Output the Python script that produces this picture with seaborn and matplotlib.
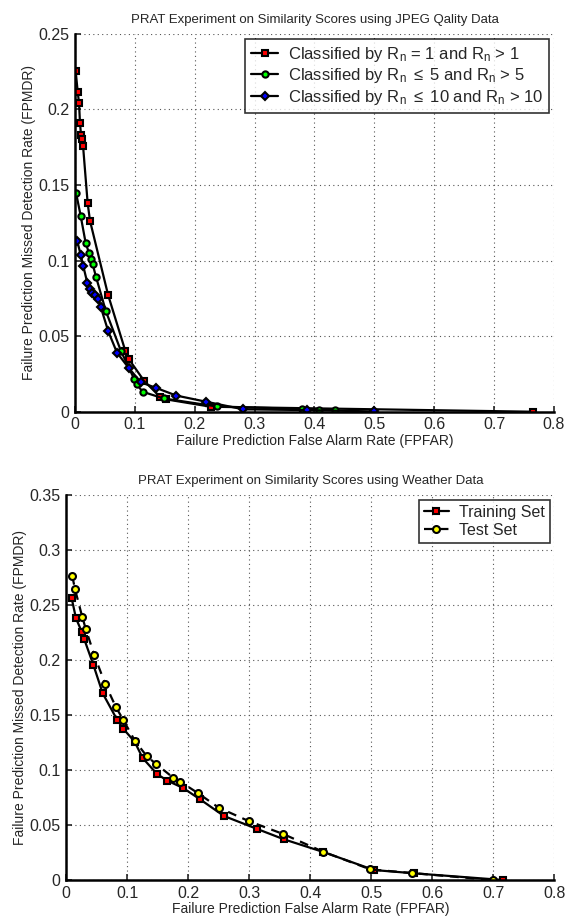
import matplotlib
matplotlib.use("Agg")
import matplotlib.pyplot as plt
import pandas as pd
import seaborn as sns

# --- JPEG quality data (top panel) ---
r1_far = [0.001, 0.0045, 0.0067, 0.0083, 0.010, 0.0117, 0.0134, 0.0211, 0.025, 0.0551,
          0.084, 0.0902, 0.1157, 0.1419, 0.152, 0.227, 0.765]
r1_mdr = [0.2257, 0.2116, 0.2043, 0.1909, 0.1834, 0.1806, 0.176, 0.138, 0.1264, 0.0775,
          0.0403, 0.0346, 0.0203, 0.0099, 0.0082, 0.0033, 0.0]

r5_far = [0.0017, 0.0095, 0.0178, 0.0234, 0.0262, 0.0295, 0.0351, 0.0515, 0.0768, 0.099,
          0.103, 0.113, 0.148, 0.2365, 0.3795, 0.408, 0.435]
r5_mdr = [0.1449, 0.1295, 0.1116, 0.105, 0.1013, 0.0976, 0.0892, 0.0666, 0.0401, 0.0215,
          0.0182, 0.0132, 0.0088, 0.0035, 0.0018, 0.0013, 0.0013]

r10_far = [0.0039, 0.0095, 0.0139, 0.0205, 0.0256, 0.0287, 0.0334, 0.0379, 0.0429, 0.0556,
           0.0701, 0.0898, 0.11, 0.1358, 0.1692, 0.2193, 0.281, 0.3868, 0.4997]
r10_mdr = [0.1127, 0.1037, 0.0962, 0.0853, 0.0815, 0.0788, 0.0771, 0.0749, 0.0694, 0.0531,
           0.0391, 0.0289, 0.0195, 0.0157, 0.0107, 0.0066, 0.0016, 0.0011, 0.0002]

# --- Weather data (bottom panel) ---
train_far = [0.0088, 0.0159, 0.0257, 0.0295, 0.0443, 0.0597, 0.0831, 0.0934, 0.1121, 0.1252,
             0.1487, 0.1656, 0.1908, 0.2192, 0.2585, 0.3121, 0.3569, 0.4213, 0.5044, 0.5705, 0.7164]
train_mdr = [0.2561, 0.2379, 0.2252, 0.2188, 0.1957, 0.1697, 0.1459, 0.1375, 0.1257, 0.1109,
             0.0964, 0.0903, 0.0839, 0.0734, 0.0582, 0.0466, 0.037, 0.0255, 0.0091, 0.0061, 0.0]

test_far = [0.0098, 0.0143, 0.0262, 0.0318, 0.046, 0.064, 0.0815, 0.0934, 0.1126, 0.1318,
            0.1466, 0.1754, 0.1869, 0.2164, 0.2498, 0.299, 0.3557, 0.4208, 0.4984, 0.5662, 0.699]
test_mdr = [0.2764, 0.2643, 0.2391, 0.2285, 0.2042, 0.178, 0.157, 0.1456, 0.1264, 0.1127,
            0.1057, 0.093, 0.0894, 0.0788, 0.0658, 0.0536, 0.0418, 0.0258, 0.0097, 0.0064, 0.0]

sns.set_style("white")
plt.rcParams["font.family"] = ["Liberation Sans", "DejaVu Sans"]
plt.rcParams["mathtext.fontset"] = "custom"
plt.rcParams["mathtext.rm"] = "Liberation Sans"
plt.rcParams["mathtext.it"] = "Liberation Sans"


def draw(ax, far, mdr, label, marker, face, ms, ls="-"):
	df = pd.DataFrame({"far": far, "mdr": mdr})
	sns.lineplot(data=df, x="far", y="mdr", ax=ax, sort=False, estimator=None,
	             color="black", lw=1.6, linestyle=ls, marker=marker, markersize=ms,
	             markerfacecolor=face, markeredgecolor="black", markeredgewidth=1.5,
	             label=label)


def style_axes(ax, ymax, title):
	ax.set_xlim(0, 0.8)
	ax.set_ylim(0, ymax)
	ax.set_xticks([i / 10 for i in range(9)])
	ax.set_xticklabels(["0"] + [f"{i / 10:.1f}" for i in range(1, 9)])
	yt = [i * 0.05 for i in range(int(round(ymax / 0.05)) + 1)]
	ax.set_yticks(yt)
	ax.set_yticklabels(["0"] + [f"{v:g}" for v in yt[1:]])
	ax.grid(True, linestyle=(0, (1, 3)), color="#555555", linewidth=0.8)
	for s in ("top", "right"):
		ax.spines[s].set_visible(False)
	for s in ("left", "bottom"):
		ax.spines[s].set_linewidth(1.8)
		ax.spines[s].set_color("black")
	ax.tick_params(direction="in", length=4, width=1.2, labelsize=11.5, pad=4,
	               left=True, bottom=True)
	ax.set_title(title, fontsize=9.5, pad=8)
	ax.set_xlabel("Failure Prediction False Alarm Rate (FPFAR)", fontsize=10, labelpad=1)
	ax.set_ylabel("Failure Prediction Missed Detection Rate (FPMDR)", fontsize=10, labelpad=2)


fig = plt.figure(figsize=(5.74, 9.17), dpi=100)
ax1 = fig.add_axes([0.1307, 0.551, 0.8343, 0.412])
ax2 = fig.add_axes([0.1155, 0.0403, 0.8502, 0.4199])

draw(ax1, r1_far, r1_mdr, r"Classified by R$_{\rm n}$ = 1 and R$_{\rm n}$ > 1", "s", "red", 4)
draw(ax1, r5_far, r5_mdr, r"Classified by R$_{\rm n}$ $\leq$ 5 and R$_{\rm n}$ > 5", "o", "#00ff00", 4.5)
draw(ax1, r10_far, r10_mdr, r"Classified by R$_{\rm n}$ $\leq$ 10 and R$_{\rm n}$ > 10", "D", "blue", 4)
style_axes(ax1, 0.25, "PRAT Experiment on Similarity Scores using JPEG Qality Data")
leg = ax1.legend(loc="upper right", fontsize=12, frameon=True, fancybox=False,
                 edgecolor="black", handlelength=1.6, borderpad=0.35, labelspacing=0.15,
                 handletextpad=0.6, borderaxespad=0.3)
leg.get_frame().set_linewidth(1.2)

draw(ax2, train_far, train_mdr, "Training Set", "s", "red", 4)
draw(ax2, test_far, test_mdr, "Test Set", "o", "yellow", 5, ls=(0, (4, 3)))
style_axes(ax2, 0.35, "PRAT Experiment on Similarity Scores using Weather Data")
leg2 = ax2.legend(loc="upper right", fontsize=11.5, frameon=True, fancybox=False,
                  edgecolor="black", handlelength=1.6, borderpad=0.3, labelspacing=0.2,
                  handletextpad=0.6, borderaxespad=0.3)
leg2.get_frame().set_linewidth(1.2)

fig.savefig("out.png", dpi=100)
